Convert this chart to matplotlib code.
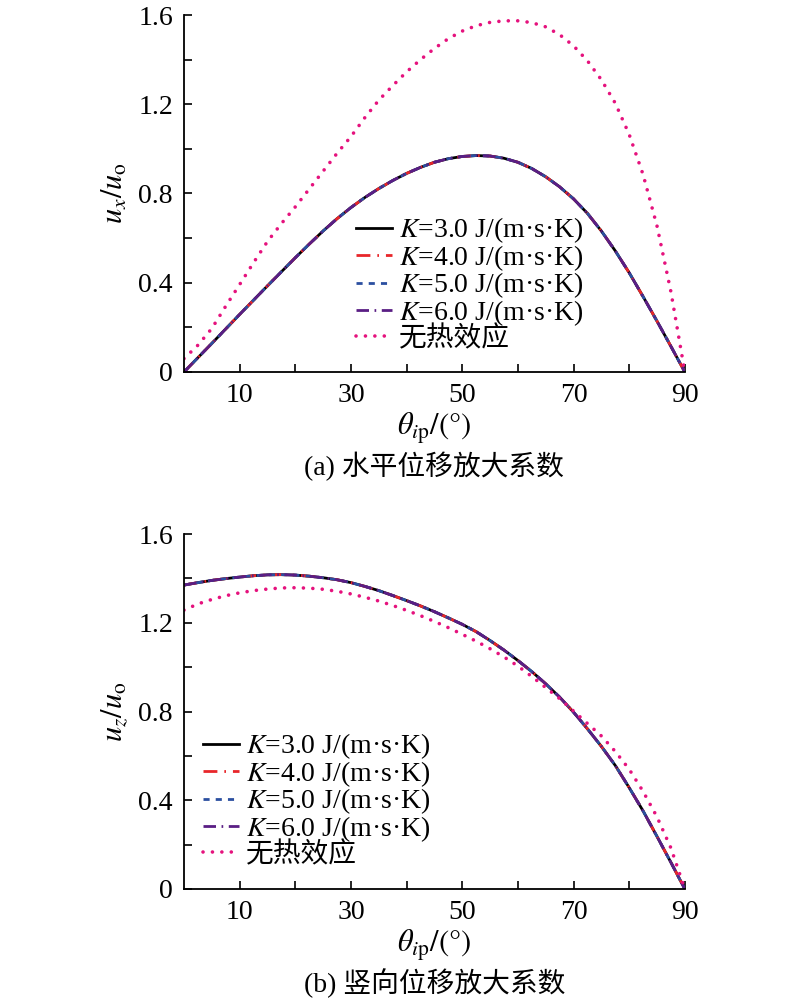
import matplotlib
matplotlib.use("Agg")
import matplotlib.pyplot as plt
from matplotlib.ticker import FixedLocator, FixedFormatter

plt.rcParams['mathtext.fontset'] = 'stix'
plt.rcParams['font.family'] = ['Liberation Serif', 'Noto Sans CJK SC']

theta = [0, 2.5, 5, 7.5, 10, 12.5, 15, 17.5, 20, 22.5, 25, 27.5, 30, 32.5, 35, 37.5,
         40, 42.5, 45, 47.5, 50, 52.5, 55, 57.5, 60, 62.5, 65, 67.5, 70, 72.5, 75,
         77.5, 80, 82.5, 85, 87.5, 90]

# horizontal displacement amplification (identical for K = 3..6)
ux_K = [0, 0.064, 0.128, 0.193, 0.258, 0.322, 0.386, 0.449, 0.512, 0.573, 0.632,
        0.687, 0.737, 0.782, 0.822, 0.858, 0.89, 0.917, 0.94, 0.956, 0.966, 0.97,
        0.968, 0.958, 0.94, 0.912, 0.875, 0.83, 0.776, 0.711, 0.632, 0.543, 0.445,
        0.338, 0.228, 0.115, 0]
ux_noheat = [0.06, 0.12, 0.195, 0.295, 0.392, 0.49, 0.585, 0.665, 0.74, 0.82, 0.90,
             0.98, 1.055, 1.14, 1.218, 1.283, 1.345, 1.40, 1.45, 1.494, 1.528, 1.552,
             1.567, 1.574, 1.574, 1.566, 1.547, 1.512, 1.462, 1.395, 1.31, 1.205,
             1.065, 0.885, 0.655, 0.36, 0]

# vertical displacement amplification
uz_K = [1.37, 1.381, 1.391, 1.399, 1.406, 1.412, 1.416, 1.417, 1.415, 1.41, 1.403,
        1.394, 1.381, 1.364, 1.345, 1.323, 1.30, 1.276, 1.25, 1.222, 1.193, 1.16,
        1.12, 1.077, 1.03, 0.98, 0.925, 0.865, 0.797, 0.722, 0.643, 0.557, 0.457,
        0.352, 0.237, 0.12, 0]
uz_noheat = [1.257, 1.285, 1.305, 1.322, 1.335, 1.345, 1.352, 1.357, 1.358, 1.356,
             1.351, 1.342, 1.33, 1.315, 1.298, 1.278, 1.256, 1.232, 1.206, 1.178,
             1.148, 1.117, 1.083, 1.046, 1.005, 0.958, 0.908, 0.858, 0.802, 0.746,
             0.69, 0.62, 0.54, 0.44, 0.325, 0.185, 0]

labels = ['K=3.0 J/(m·s·K)', 'K=4.0 J/(m·s·K)', 'K=5.0 J/(m·s·K)', 'K=6.0 J/(m·s·K)']
label_noheat = '无热效应'
captions = ['(a) 水平位移放大系数', '(b) 竖向位移放大系数']
ylabels = [r'$u_x/u_\mathrm{o}$', r'$u_z/u_\mathrm{o}$']
xlabel = r'$\theta_{i\mathrm{p}}/(\degree)$'

xticks_major = [10, 30, 50, 70, 90]
xticks_minor = [20, 40, 60, 80]
yticks_major = [0, 0.4, 0.8, 1.2, 1.6]
yticks_major_lab = ['0', '0.4', '0.8', '1.2', '1.6']
yticks_minor = [0.2, 0.6, 1.0, 1.4]

colors = ['black', '#E8262A', '#2B4FA0', '#5A1E84']
styles = ['-', (0, (5, 2.5, 0.6, 2.5)), (0, (2.2, 2.2)), (0, (4.5, 2, 0.6, 2))]
c_noheat = '#E5127D'

fig = plt.figure(figsize=(8.0, 10.01), dpi=100)
ax1 = fig.add_axes([0.23, 0.6284, 0.626, 0.3566])
ax2 = fig.add_axes([0.23, 0.1119, 0.626, 0.3546])

def legend_label(s):
    k, rest = s.split('=', 1)
    return r'$K$=' + rest

for ax, yK, yN, yl, cap, legloc in [
        (ax1, ux_K, ux_noheat, ylabels[0], captions[0], (0.343, 0.056)),
        (ax2, uz_K, uz_noheat, ylabels[1], captions[1], (0.037, 0.059))]:
    for lab, c, ls in zip(labels, colors, styles):
        ax.plot(theta, yK, color=c, linestyle=ls, lw=2.0, label=legend_label(lab))
    ax.plot(theta, yN, color=c_noheat, linestyle=(0, (0.01, 2.6)), lw=2.6,
            dash_capstyle='round', label=label_noheat)
    ax.set_xlim(0, 90)
    ax.set_ylim(0, 1.6)
    ax.xaxis.set_major_locator(FixedLocator(xticks_major))
    ax.xaxis.set_minor_locator(FixedLocator(xticks_minor))
    ax.yaxis.set_major_locator(FixedLocator(yticks_major))
    ax.yaxis.set_major_formatter(FixedFormatter(yticks_major_lab))
    ax.yaxis.set_minor_locator(FixedLocator(yticks_minor))
    ax.tick_params(which='both', direction='in', length=6, width=1.2, labelsize=20,
                   top=False, right=False, pad=8)
    for sp in ['top', 'right']:
        ax.spines[sp].set_visible(False)
    for sp in ['left', 'bottom']:
        ax.spines[sp].set_linewidth(1.3)
    ax.set_ylabel(yl, fontsize=22, labelpad=6)
    ax.set_xlabel(xlabel, fontsize=22, labelpad=2)
    ax.text(0.5, -0.265, cap, transform=ax.transAxes, ha='center', va='center',
            fontsize=20)
    leg = ax.legend(loc='lower left', bbox_to_anchor=legloc, frameon=False,
                    fontsize=20, handlelength=1.3, handletextpad=0.25,
                    labelspacing=-0.08, borderaxespad=0, borderpad=0)

fig.savefig('out.png', dpi=100)
